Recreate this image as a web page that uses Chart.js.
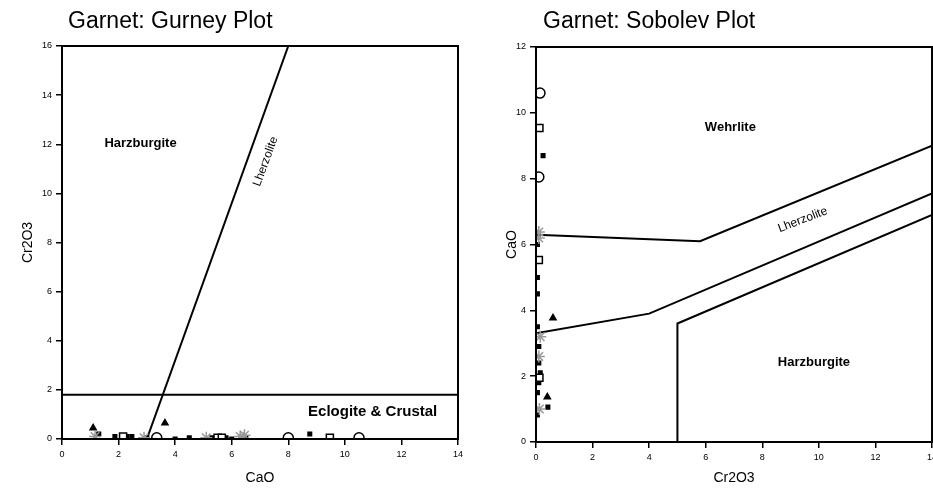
<!DOCTYPE html>
<html>
<head>
<meta charset="utf-8">
<script src="https://cdn.jsdelivr.net/npm/chart.js@4.4.1/dist/chart.umd.min.js"></script>
<style>
  html, body { margin: 0; padding: 0; background: #fff; overflow: hidden; width: 933px; height: 491px; }
  #gurney { position: absolute; left: 0; top: 0; }
  #sobolev { position: absolute; left: 480px; top: 0; }
</style>
</head>
<body>
<canvas id="gurney" width="480" height="491"></canvas>
<canvas id="sobolev" width="470" height="491"></canvas>
<script>
// ---- Gurney plot: x = CaO, y = Cr2O3 ----
const gurneyTicksX = [0, 2, 4, 6, 8, 10, 12, 14];
const gurneyTicksY = [0, 2, 4, 6, 8, 10, 12, 14, 16];
const gurneyLherzCaO = [3.0, 8.0];
const gurneyLherzCr = [0, 16];
const gurneyEclogCaO = [0, 14];
const gurneyEclogCr = [1.8, 1.8];
const gurneyCircleCaO = [3.35, 8.0, 10.5];
const gurneyCircleCr = [0.05, 0.05, 0.05];
const gurneySquareCaO = [2.16, 5.5, 9.47, 5.65];
const gurneySquareCr = [0.1, 0.05, 0.05, 0.05];
const gurneyStarCaO = [1.17, 5.1, 6.3, 6.45, 2.9];
const gurneyStarCr = [0.1, 0.05, 0.1, 0.15, 0.05];
const gurneyDotCaO = [1.3, 1.87, 2.3, 2.47, 3.0, 4.0, 4.5, 5.3, 5.8, 6.0, 6.5, 8.76];
const gurneyDotCr = [0.2, 0.1, 0.1, 0.1, 0.05, 0, 0.05, 0.05, 0.05, 0, 0.05, 0.2];
const gurneyTriCaO = [1.1, 3.64];
const gurneyTriCr = [0.45, 0.65];

// ---- Sobolev plot: x = Cr2O3, y = CaO ----
const sobolevTicksX = [0, 2, 4, 6, 8, 10, 12, 14];
const sobolevTicksY = [0, 2, 4, 6, 8, 10, 12];
const sobolevWehrCr = [0, 5.8, 14];
const sobolevWehrCaO = [6.3, 6.1, 9.0];
const sobolevLherzCr = [0, 4.0, 14];
const sobolevLherzCaO = [3.3, 3.9, 7.55];
const sobolevHarzCr = [5, 5, 14];
const sobolevHarzCaO = [0, 3.6, 6.9];
const sobolevCircleCr = [0.14, 0.1];
const sobolevCircleCaO = [10.6, 8.05];
const sobolevSquareCr = [0.12, 0.1, 0.12];
const sobolevSquareCaO = [9.54, 5.53, 1.95];
const sobolevStarCr = [0.1, 0.15, 0.1, 0.1, 0.12];
const sobolevStarCaO = [6.38, 3.2, 2.6, 6.2, 1.0];
const sobolevDotCr = [0.25, 0.05, 0.05, 0.05, 0.1, 0.15, 0.42, 0.05, 0.1, 0.05, 0.1, 0.05];
const sobolevDotCaO = [8.7, 6.0, 5.0, 4.5, 2.9, 2.1, 1.06, 0.82, 1.8, 3.5, 2.4, 1.5];
const sobolevTriCr = [0.6, 0.4];
const sobolevTriCaO = [3.77, 1.37];

const pts = (xs, ys) => xs.map((x, i) => ({ x: x, y: ys[i] }));

function boundary(xs, ys) {
  return { data: pts(xs, ys), showLine: true, borderColor: '#000', borderWidth: 2,
           pointRadius: 0, fill: false, order: 2 };
}

function markers(xs, ys, style) {
  const base = { data: pts(xs, ys), order: 1, borderColor: '#000', borderWidth: 1.5 };
  if (style === 'circle') return Object.assign(base, { pointStyle: 'circle', pointRadius: 5, backgroundColor: '#fff' });
  if (style === 'square') return Object.assign(base, { pointStyle: 'rect', pointRadius: 5, backgroundColor: '#fff' });
  if (style === 'star') return Object.assign(base, { pointStyle: 'star', pointRadius: 6, borderColor: '#999' });
  if (style === 'tri') return Object.assign(base, { pointStyle: 'triangle', pointRadius: 3.5, backgroundColor: '#000' });
  return Object.assign(base, { pointStyle: 'rect', pointRadius: 2.5, backgroundColor: '#000' });
}

// frame round the plot area, title and field labels
const decorations = {
  id: 'decorations',
  afterDatasetsDraw(chart, args, opts) {
    const ctx = chart.ctx;
    const a = chart.chartArea;
    ctx.save();
    ctx.strokeStyle = '#000';
    ctx.lineWidth = 2;
    ctx.strokeRect(a.left, a.top, a.right - a.left, a.bottom - a.top);
    ctx.fillStyle = '#000';
    ctx.textBaseline = 'middle';
    ctx.font = '23px "Liberation Sans", Arial, sans-serif';
    ctx.textAlign = 'left';
    ctx.fillText(opts.title, a.left + opts.titleShift, 22);
    for (const l of opts.labels) {
      const px = chart.scales.x.getPixelForValue(l.x);
      const py = chart.scales.y.getPixelForValue(l.y);
      ctx.save();
      ctx.translate(px, py);
      ctx.rotate((l.rot || 0) * Math.PI / 180);
      ctx.font = l.font;
      ctx.textAlign = l.align;
      ctx.fillText(l.text, 0, 0);
      ctx.restore();
    }
    ctx.restore();
  }
};

function axis(title, min, max, ticks, fixed, isX) {
  return {
    type: 'linear', min: min, max: max,
    afterBuildTicks: s => { s.ticks = ticks.map(v => ({ value: v })); },
    afterFit: s => { if (isX) s.height = fixed; else s.width = fixed; },
    grid: { drawOnChartArea: false, drawTicks: true, tickLength: 6, color: '#000', lineWidth: 1.5 },
    border: { color: '#000', width: 2 },
    ticks: { color: '#000', font: { size: 9, family: 'Liberation Sans' }, padding: 4 },
    title: { display: true, text: title, color: '#000', font: { size: 14, family: 'Liberation Sans' },
             padding: { top: 2, bottom: 4 } }
  };
}

new Chart(document.getElementById('gurney'), {
  type: 'scatter',
  data: {
    datasets: [
      markers(gurneyCircleCaO, gurneyCircleCr, 'circle'),
      markers(gurneySquareCaO, gurneySquareCr, 'square'),
      markers(gurneyStarCaO, gurneyStarCr, 'star'),
      markers(gurneyDotCaO, gurneyDotCr, 'dot'),
      markers(gurneyTriCaO, gurneyTriCr, 'tri'),
      boundary(gurneyLherzCaO, gurneyLherzCr),
      boundary(gurneyEclogCaO, gurneyEclogCr)
    ]
  },
  options: {
    responsive: false,
    animation: false,
    layout: { padding: { top: 46, right: 22, left: 18, bottom: 0 } },
    scales: {
      x: axis('CaO', 0, 14, gurneyTicksX, 52, true),
      y: axis('Cr2O3', 0, 16, gurneyTicksY, 44, false)
    },
    plugins: {
      legend: { display: false },
      tooltip: { enabled: false },
      decorations: {
        title: 'Garnet: Gurney Plot', titleShift: 6,
        labels: [
          { text: 'Harzburgite', x: 1.5, y: 12.05, align: 'left', font: 'bold 13px "Liberation Sans", Arial, sans-serif' },
          { text: 'Lherzolite', x: 7.2, y: 11.3, align: 'center', rot: -70, font: '12px "Liberation Sans", Arial, sans-serif' },
          { text: 'Eclogite & Crustal', x: 8.7, y: 1.1, align: 'left', font: 'bold 15px "Liberation Sans", Arial, sans-serif' }
        ]
      }
    }
  },
  plugins: [decorations]
});

new Chart(document.getElementById('sobolev'), {
  type: 'scatter',
  data: {
    datasets: [
      markers(sobolevCircleCr, sobolevCircleCaO, 'circle'),
      markers(sobolevSquareCr, sobolevSquareCaO, 'square'),
      markers(sobolevStarCr, sobolevStarCaO, 'star'),
      markers(sobolevDotCr, sobolevDotCaO, 'dot'),
      markers(sobolevTriCr, sobolevTriCaO, 'tri'),
      boundary(sobolevWehrCr, sobolevWehrCaO),
      boundary(sobolevLherzCr, sobolevLherzCaO),
      boundary(sobolevHarzCr, sobolevHarzCaO)
    ]
  },
  options: {
    responsive: false,
    animation: false,
    layout: { padding: { top: 47, right: 18, left: 22, bottom: 0 } },
    scales: {
      x: axis('Cr2O3', 0, 14, sobolevTicksX, 49, true),
      y: axis('CaO', 0, 12, sobolevTicksY, 34, false)
    },
    plugins: {
      legend: { display: false },
      tooltip: { enabled: false },
      decorations: {
        title: 'Garnet: Sobolev Plot', titleShift: 7,
        labels: [
          { text: 'Wehrlite', x: 5.97, y: 9.55, align: 'left', font: 'bold 13px "Liberation Sans", Arial, sans-serif' },
          { text: 'Lherzolite', x: 9.43, y: 6.75, align: 'center', rot: -21, font: '12px "Liberation Sans", Arial, sans-serif' },
          { text: 'Harzburgite', x: 8.55, y: 2.43, align: 'left', font: 'bold 13px "Liberation Sans", Arial, sans-serif' }
        ]
      }
    }
  },
  plugins: [decorations]
});
</script>
</body>
</html>
